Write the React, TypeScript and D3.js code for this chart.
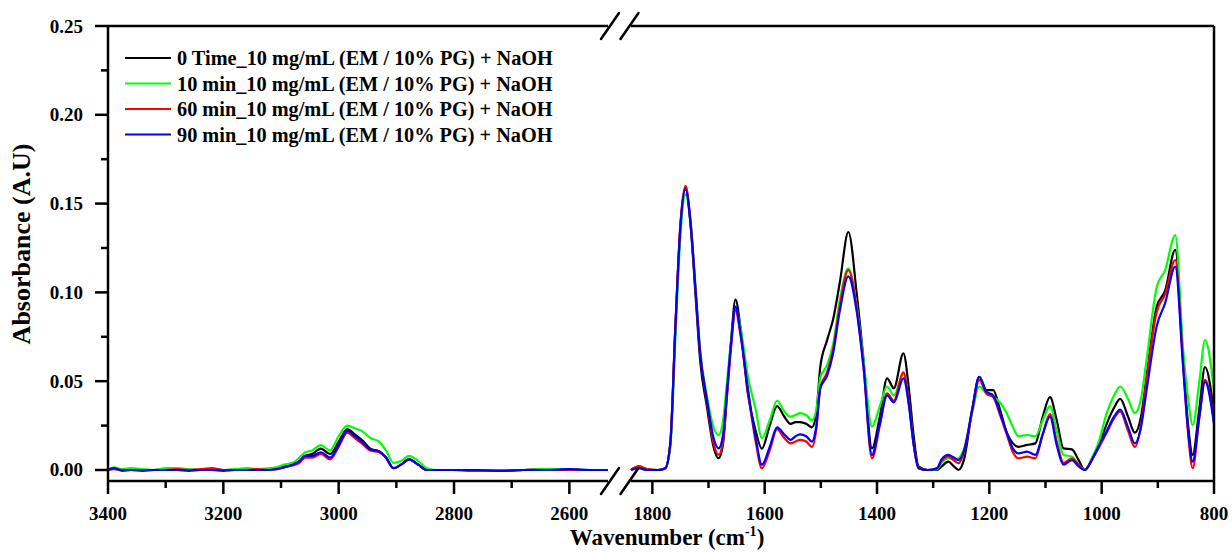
import React from "react";
import * as d3 from "d3";

// FTIR spectra, split axis: 3400–2533 cm-1 on the left, 1838–800 cm-1 on the right.
const seriesNames = [
  "0 Time_10 mg/mL (EM / 10% PG) + NaOH",
  "10 min_10 mg/mL (EM / 10% PG) + NaOH",
  "60 min_10 mg/mL (EM / 10% PG) + NaOH",
  "90 min_10 mg/mL (EM / 10% PG) + NaOH",
];
const seriesColors = ["#000000", "#00ff00", "#ff0000", "#0000ff"];

// High-wavenumber segment
const leftWavenumbers = [
  3400, 3390, 3375, 3360, 3340, 3320, 3300, 3280, 3260, 3240, 3220, 3200, 3180, 3160, 3140,
  3120, 3108, 3095, 3080, 3068, 3058, 3046, 3031, 3015, 3000, 2985, 2972, 2960, 2945, 2930,
  2918, 2905, 2892, 2878, 2862, 2847, 2830, 2800, 2760, 2720, 2680, 2640, 2600, 2560, 2533,
];
const leftBlack = [
  0, 0.001, 0, 0.0005, 0, 0, 0.0005, 0.0005, 0, 0, 0.0005, 0, 0, 0.0005, 0,
  0.0005, 0.001, 0.002, 0.003, 0.005, 0.008, 0.009, 0.012, 0.009, 0.016, 0.023, 0.02, 0.017, 0.012, 0.0105,
  0.007, 0.001, 0.003, 0.006, 0.003, 0, 0, 0, -0.0005, -0.0005, 0, 0.0005, 0, 0, 0,
];
const leftGreen = [
  0, 0.0015, 0.0005, 0.001, 0.0005, 0, 0.001, 0.001, 0.0005, 0, 0.0005, 0, 0.0005, 0.001, 0.0005,
  0.001, 0.0015, 0.003, 0.004, 0.007, 0.01, 0.011, 0.014, 0.011, 0.019, 0.025, 0.0235, 0.022, 0.018, 0.016,
  0.011, 0.004, 0.005, 0.008, 0.005, 0.001, 0, 0, 0, 0, 0, 0.0005, 0.0005, 0, 0,
];
const leftRed = [
  0, 0.0005, 0, 0, 0, 0, 0, 0.0005, 0, 0.0005, 0.001, 0, 0, 0, 0.0005,
  0, 0.0005, 0.0015, 0.0025, 0.004, 0.007, 0.007, 0.009, 0.006, 0.013, 0.021, 0.018, 0.015, 0.011, 0.01,
  0.007, 0.001, 0.003, 0.006, 0.003, 0, 0, 0, -0.0005, -0.0005, 0, 0, 0, 0, 0,
];
const leftBlue = [
  0, 0.001, -0.0005, 0, -0.0005, 0, 0, 0, -0.0005, 0, 0, -0.0005, 0, 0, 0,
  0, 0.0005, 0.0015, 0.003, 0.005, 0.008, 0.008, 0.01, 0.007, 0.014, 0.022, 0.019, 0.016, 0.0115, 0.0105,
  0.007, 0.001, 0.003, 0.006, 0.003, 0, 0, 0, 0, -0.0005, 0, 0, 0.0005, 0, 0,
];

// Fingerprint segment
const rightWavenumbers = [
  1838, 1824, 1810, 1790, 1777, 1768, 1759, 1750, 1741, 1732, 1723, 1715, 1703, 1691, 1682,
  1674, 1667, 1660, 1652, 1643, 1630, 1616, 1605, 1591, 1578, 1565, 1554, 1545, 1537, 1526,
  1516, 1508, 1501, 1489, 1478, 1466, 1451, 1436, 1424, 1409, 1395, 1382, 1370, 1353, 1343,
  1335, 1326, 1310, 1293, 1285, 1273, 1263, 1255, 1245, 1230, 1218, 1205, 1193, 1181, 1169,
  1158, 1148, 1133, 1118, 1105, 1092, 1080, 1068, 1053, 1041, 1030, 1017, 1006, 991, 978,
  967, 953, 941, 930, 920, 902, 887, 869, 855, 846, 838, 826, 816, 800,
];
const rightBlack = [
  0, 0.002, 0.0005, 0, 0.001, 0.015, 0.08, 0.137, 0.159, 0.138, 0.098, 0.062, 0.036, 0.013, 0.0066,
  0.015, 0.043, 0.072, 0.096, 0.08, 0.043, 0.022, 0.012, 0.025, 0.036, 0.03, 0.026, 0.027, 0.027, 0.026,
  0.024, 0.032, 0.058, 0.073, 0.085, 0.106, 0.134, 0.099, 0.062, 0.0122, 0.03, 0.0516, 0.046, 0.0657, 0.045,
  0.02, 0.002, 0, 0, 0.002, 0.0047, 0.002, 0, 0.006, 0.035, 0.0525, 0.045, 0.045, 0.034, 0.021,
  0.015, 0.013, 0.0141, 0.015, 0.03, 0.041, 0.028, 0.0122, 0.0116, 0.0056, 0, 0.006, 0.013, 0.026, 0.035,
  0.04, 0.03, 0.021, 0.03, 0.0525, 0.092, 0.101, 0.1239, 0.062, 0.025, 0.0085, 0.035, 0.058, 0.032,
];
const rightGreen = [
  0, 0.0015, 0.0005, 0, 0.001, 0.013, 0.074, 0.132, 0.155, 0.14, 0.103, 0.068, 0.042, 0.024, 0.0197,
  0.028, 0.05, 0.072, 0.091, 0.08, 0.053, 0.034, 0.018, 0.028, 0.039, 0.033, 0.03, 0.031, 0.032, 0.031,
  0.028, 0.034, 0.052, 0.059, 0.071, 0.096, 0.1135, 0.092, 0.062, 0.0244, 0.036, 0.047, 0.042, 0.054, 0.036,
  0.015, 0.001, 0, 0.0005, 0.004, 0.0066, 0.006, 0.0066, 0.012, 0.033, 0.047, 0.043, 0.0413, 0.038, 0.032,
  0.024, 0.019, 0.0197, 0.019, 0.028, 0.036, 0.022, 0.0085, 0.0075, 0.003, 0, 0.007, 0.015, 0.032, 0.042,
  0.047, 0.04, 0.032, 0.04, 0.062, 0.103, 0.1126, 0.1323, 0.068, 0.04, 0.0253, 0.05, 0.0732, 0.045,
];
const rightRed = [
  0, 0.002, 0.0005, 0, 0.001, 0.015, 0.081, 0.139, 0.16, 0.14, 0.101, 0.066, 0.039, 0.015, 0.0085,
  0.017, 0.042, 0.068, 0.09, 0.076, 0.045, 0.016, 0.001, 0.011, 0.023, 0.018, 0.015, 0.016, 0.017, 0.016,
  0.013, 0.023, 0.046, 0.055, 0.068, 0.093, 0.1125, 0.091, 0.058, 0.0066, 0.025, 0.0431, 0.039, 0.055, 0.038,
  0.015, 0.001, 0, 0.001, 0.005, 0.0075, 0.0055, 0.0038, 0.01, 0.034, 0.0507, 0.043, 0.041, 0.031, 0.02,
  0.01, 0.0066, 0.0075, 0.0066, 0.02, 0.0315, 0.016, 0.004, 0.0066, 0.003, 0, 0.006, 0.012, 0.021, 0.029,
  0.033, 0.022, 0.013, 0.025, 0.051, 0.089, 0.099, 0.1182, 0.06, 0.02, 0.001, 0.03, 0.0507, 0.028,
];
const rightBlue = [
  0, 0.001, 0, 0, 0.001, 0.015, 0.08, 0.137, 0.158, 0.139, 0.101, 0.066, 0.04, 0.018, 0.0122,
  0.02, 0.045, 0.071, 0.092, 0.077, 0.046, 0.018, 0.003, 0.013, 0.024, 0.02, 0.017, 0.019, 0.02, 0.019,
  0.016, 0.025, 0.046, 0.053, 0.066, 0.09, 0.109, 0.089, 0.058, 0.0085, 0.026, 0.042, 0.038, 0.0516, 0.036,
  0.015, 0.001, 0, 0.001, 0.006, 0.0085, 0.007, 0.0056, 0.011, 0.035, 0.0525, 0.044, 0.042, 0.032, 0.021,
  0.012, 0.0094, 0.0103, 0.0085, 0.02, 0.03, 0.014, 0.003, 0.0056, 0.002, 0, 0.006, 0.013, 0.022, 0.03,
  0.034, 0.024, 0.015, 0.024, 0.045, 0.081, 0.094, 0.1145, 0.058, 0.022, 0.0047, 0.03, 0.0497, 0.026,
];

const leftSeries = [leftBlack, leftGreen, leftRed, leftBlue];
const rightSeries = [rightBlack, rightGreen, rightRed, rightBlue];

const leftMajorTicks = [3400, 3200, 3000, 2800, 2600];
const leftMinorTicks = [3300, 3100, 2900, 2700];
const rightMajorTicks = [1800, 1600, 1400, 1200, 1000, 800];
const rightMinorTicks = [1700, 1500, 1300, 1100, 900];
const yMajorTicks = [0, 0.05, 0.1, 0.15, 0.2, 0.25];
const yMinorTicks = [0.025, 0.075, 0.125, 0.175, 0.225];

const FONT = "'Liberation Serif', 'Times New Roman', serif";

export default function App() {
  const top = 26;
  const bottom = 481;
  const left = 108;
  const right = 1214;
  const breakL = 608;
  const breakR = 631;

  const y = d3.scaleLinear().domain([-0.0062, 0.25]).range([bottom, top]);
  const xL = d3.scaleLinear().domain([3400, 2533]).range([left, breakL]);
  const xR = d3.scaleLinear().domain([1838, 800]).range([breakR, right]);

  const makeLine = (xs: d3.ScaleLinear<number, number>, wn: number[]) =>
    d3
      .line<number>()
      .x((_, i) => xs(wn[i]))
      .y((v) => y(v))
      .curve(d3.curveMonotoneX);

  const lineL = makeLine(xL, leftWavenumbers);
  const lineR = makeLine(xR, rightWavenumbers);

  const axisW = 2.5;
  const slash = (cx: number, cy: number) => (
    <line
      x1={cx - 9}
      y1={cy + 13}
      x2={cx + 9}
      y2={cy - 13}
      stroke="#000"
      strokeWidth={axisW}
      strokeLinecap="round"
    />
  );

  const legendY = [58, 83.5, 109, 134.5];

  return (
    <svg width={1232} height={552} style={{ display: "block", position: "absolute", left: 0, top: 0 }}>
      <rect x={0} y={0} width={1232} height={552} fill="#fff" />

      {/* spectra */}
      <g fill="none" strokeWidth={2.2} strokeLinejoin="round">
        {leftSeries.map((s, i) => (
          <path key={"l" + i} d={lineL(s) || ""} stroke={seriesColors[i]} />
        ))}
        {rightSeries.map((s, i) => (
          <path key={"r" + i} d={lineR(s) || ""} stroke={seriesColors[i]} />
        ))}
      </g>

      {/* frame */}
      <g stroke="#000" strokeWidth={axisW} fill="none">
        <line x1={left} y1={top} x2={left} y2={bottom} />
        <line x1={right} y1={top} x2={right} y2={bottom} />
        <line x1={left} y1={top} x2={breakL} y2={top} />
        <line x1={breakR} y1={top} x2={right} y2={top} />
        <line x1={left} y1={bottom} x2={breakL} y2={bottom} />
        <line x1={breakR} y1={bottom} x2={right} y2={bottom} />
      </g>
      {slash(610, top)}
      {slash(629.5, top)}
      {slash(610, bottom)}
      {slash(629.5, bottom)}

      {/* ticks */}
      <g stroke="#000" strokeWidth={axisW}>
        {yMajorTicks.map((t) => (
          <line key={"ym" + t} x1={left - 13} x2={left} y1={y(t)} y2={y(t)} />
        ))}
        {yMinorTicks.map((t) => (
          <line key={"yn" + t} x1={left - 7} x2={left} y1={y(t)} y2={y(t)} />
        ))}
        {leftMajorTicks.map((t) => (
          <line key={"xlm" + t} x1={xL(t)} x2={xL(t)} y1={bottom} y2={bottom + 13} />
        ))}
        {leftMinorTicks.map((t) => (
          <line key={"xln" + t} x1={xL(t)} x2={xL(t)} y1={bottom} y2={bottom + 7} />
        ))}
        {rightMajorTicks.map((t) => (
          <line key={"xrm" + t} x1={xR(t)} x2={xR(t)} y1={bottom} y2={bottom + 13} />
        ))}
        {rightMinorTicks.map((t) => (
          <line key={"xrn" + t} x1={xR(t)} x2={xR(t)} y1={bottom} y2={bottom + 7} />
        ))}
      </g>

      <g fontFamily={FONT} fontWeight="bold" fontSize={19} fill="#000">
        {yMajorTicks.map((t) => (
          <text key={"yl" + t} x={83} y={y(t)} textAnchor="end" dominantBaseline="central">
            {t.toFixed(2)}
          </text>
        ))}
        {leftMajorTicks.map((t) => (
          <text key={"xll" + t} x={xL(t)} y={520} textAnchor="middle">
            {t}
          </text>
        ))}
        {rightMajorTicks.map((t) => (
          <text key={"xrl" + t} x={xR(t)} y={520} textAnchor="middle">
            {t}
          </text>
        ))}
      </g>

      {/* axis titles */}
      <text
        x={667}
        y={545}
        textAnchor="middle"
        fontFamily={FONT}
        fontWeight="bold"
        fontSize={23}
      >
        Wavenumber (cm
        <tspan fontSize={14} dy={-9}>
          -1
        </tspan>
        <tspan dy={9}>)</tspan>
      </text>
      <text
        transform="translate(30,244) rotate(-90)"
        textAnchor="middle"
        fontFamily={FONT}
        fontWeight="bold"
        fontSize={26}
      >
        Absorbance (A.U)
      </text>

      {/* legend */}
      <g fontFamily={FONT} fontWeight="bold" fontSize={20.3}>
        {seriesNames.map((name, i) => (
          <g key={name}>
            <line x1={125} x2={171} y1={legendY[i]} y2={legendY[i]} stroke={seriesColors[i]} strokeWidth={2.2} />
            <text x={177} y={legendY[i]} dominantBaseline="central">
              {name}
            </text>
          </g>
        ))}
      </g>
    </svg>
  );
}
